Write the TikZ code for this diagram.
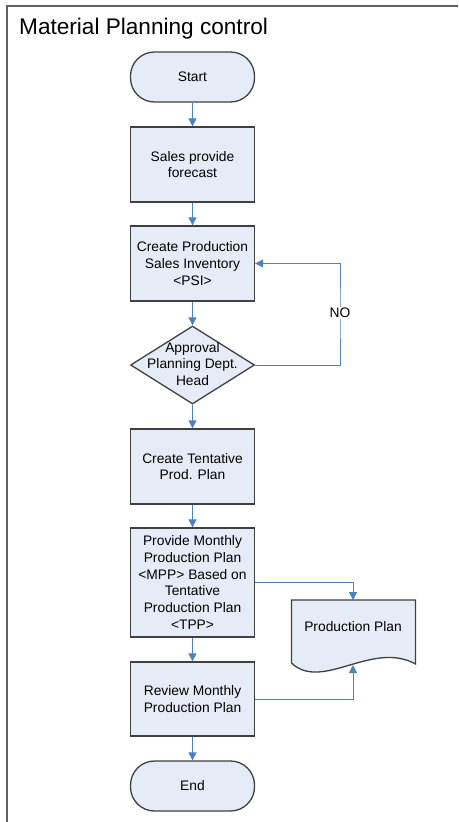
\documentclass[tikz,border=0pt]{standalone}
\usepackage{fontspec}
\setmainfont{Liberation Sans}
\usetikzlibrary{shapes.geometric,arrows.meta}
\definecolor{boxfill}{RGB}{230,236,247}
\definecolor{boxline}{RGB}{64,64,64}
\definecolor{arrblue}{RGB}{79,129,189}
\definecolor{frameline}{RGB}{96,96,96}
\tikzset{
  box/.style={draw=boxline, line width=1.3pt, fill=boxfill, minimum width=124pt, minimum height=75pt, inner sep=0pt, align=center, font=\fontsize{13.8}{16.7}\selectfont},
  term/.style={box, minimum height=50pt, rounded corners=24pt},
  dia/.style={diamond, draw=boxline, line width=1.3pt, fill=boxfill, minimum width=124pt, minimum height=78pt, inner sep=0pt},
  txt/.style={align=center, inner sep=0pt, font=\fontsize{13.8}{16.7}\selectfont},
  arr/.style={draw=arrblue, line width=1pt, -{Triangle[length=8pt,width=8pt]}},
}
\begin{document}
\begin{tikzpicture}[x=1pt,y=-1pt]
\useasboundingbox (0,0) rectangle (458,822);
\fill[white] (0,0) rectangle (458,822);
\draw[frameline, line width=1.8pt] (7,822) -- (7,6) -- (458,6);
\node[anchor=base west, inner sep=0pt, font=\fontsize{22.6}{27}\selectfont] (title) at (19,34.5) {Material Planning control};

\node[term] (start) at (192.5,77) {Start};
\node[box] (sales) at (192.5,164.5) {Sales provide\\forecast};
\node[box] (psi) at (192.5,263.5) {Create Production\\Sales Inventory\\<PSI>};
\node[dia] (appr) at (192.5,365) {};
\node[txt] (apprt) at (192.5,364) {Approval\\Planning Dept.\\Head};
\node[box] (tent) at (192.5,466.5) {Create Tentative\\Prod. Plan};
\node[box, minimum height=109pt] (mpp) at (192.5,582.5) {Provide Monthly\\Production Plan\\<MPP> Based on\\Tentative\\Production Plan\\<TPP>};
\node[box, minimum height=74pt] (rev) at (192.5,699) {Review Monthly\\Production Plan};
\node[term] (end) at (192.5,786) {End};

% document shape
\draw[draw=boxline, line width=1.3pt, fill=boxfill] (291.5,600) -- (415.5,600) -- (415.5,664)
  .. controls (372,640) and (322,692) .. (291.5,663) -- cycle;
\node[txt] (pp) at (353,627) {Production Plan};
\coordinate (doctop) at (353,600);
\coordinate (docbot) at (353,665);

% connectors
\draw[arr] (start) -- (sales);
\draw[arr] (sales) -- (psi);
\draw[arr] (psi) -- (appr);
\draw[arr] (appr) -- (tent);
\draw[arr] (tent) -- (mpp);
\draw[arr] (mpp) -- (rev);
\draw[arr] (rev) -- (end);
\coordinate (noc) at (340,313);
\draw[arr] (appr.east) -| (noc) |- (psi.east);
\node[txt, fill=white, inner sep=1.5pt] (no) at (noc) {NO};
\draw[arr] (mpp.east) -| (doctop);
\draw[arr] (rev.east) -| (docbot);
\end{tikzpicture}
\end{document}
